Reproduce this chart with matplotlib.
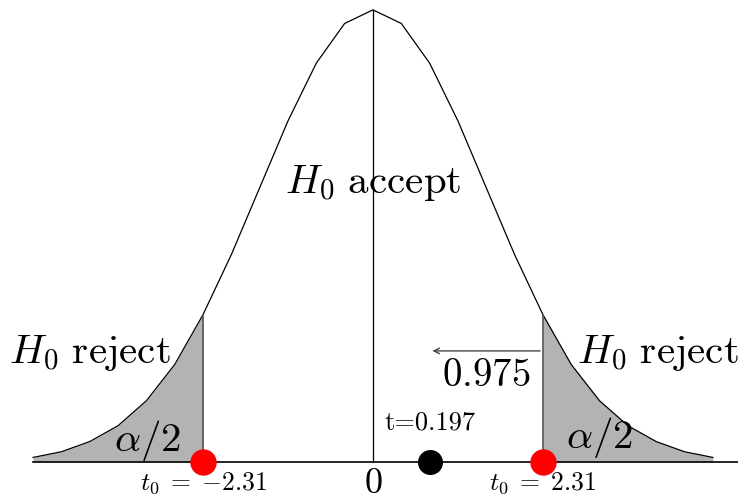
import numpy as np
import matplotlib
matplotlib.use("Agg")
import matplotlib.pyplot as plt

plt.rcParams['mathtext.fontset'] = 'cm'

# density curve
xs = [-3.0, -2.75, -2.5, -2.25, -2.0, -1.75, -1.5, -1.25, -1.0, -0.75, -0.5, -0.25, 0.0,
      0.25, 0.5, 0.75, 1.0, 1.25, 1.5, 1.75, 2.0, 2.25, 2.5, 2.75, 3.0]
ys = [0.004, 0.009, 0.018, 0.032, 0.054, 0.086, 0.130, 0.183, 0.242, 0.301, 0.352, 0.387, 0.399,
      0.387, 0.352, 0.301, 0.242, 0.183, 0.130, 0.086, 0.054, 0.032, 0.018, 0.009, 0.004]
crit = 1.5          # where the rejection region starts (drawn position)
t_pos = 0.5         # drawn position of the test statistic
crit_labels = [r'$t_0\;=\;{-}2.31$', r'$t_0\;=\;2.31$']
t_label = 't=0.197'

xs = np.array(xs)
ys = np.array(ys)

fig = plt.figure(figsize=(7.38, 4.99), dpi=100)
ax = fig.add_axes([0, 0, 1, 1])
ax.set_xlim(-3.292, 3.222)
ax.set_ylim(-0.0327, 0.4077)
ax.axis('off')

# shaded tails
left = xs <= -crit
right = xs >= crit
ax.fill_between(xs[left], 0, ys[left], color='#b3b3b3', lw=0)
ax.fill_between(xs[right], 0, ys[right], color='#b3b3b3', lw=0)

ax.plot(xs, ys, color='black', lw=0.9)
ax.plot([-3.0, 3.3], [0, 0], color='black', lw=1.2)
ax.plot([0, 0], [0, ys[xs == 0][0]], color='black', lw=0.9)
ycrit = ys[right][0]
ax.plot([-crit, -crit], [0, ycrit], color='#555555', lw=1.2)
ax.plot([crit, crit], [0, ycrit], color='#555555', lw=1.2)

ax.annotate('', xy=(t_pos, 0.098), xytext=(crit, 0.098),
            arrowprops=dict(arrowstyle='->', color='#444444', lw=1.0))

ax.plot([-crit, crit], [0, 0], 'o', color='red', ms=18, zorder=5, clip_on=False)
ax.plot([t_pos], [0], 'o', color='black', ms=17, zorder=5)

big = 29.5
ax.text(0, 0.246, r'$H_0\ \mathrm{accept}$', ha='center', va='center', fontsize=big)
ax.text(-2.5, 0.096, r'$H_0\ \mathrm{reject}$', ha='center', va='center', fontsize=big)
ax.text(2.51, 0.096, r'$H_0\ \mathrm{reject}$', ha='center', va='center', fontsize=big)
ax.text(-1.99, 0.019, r'$\alpha/2$', ha='center', va='center', fontsize=big)
ax.text(2.0, 0.022, r'$\alpha/2$', ha='center', va='center', fontsize=big)
ax.text(1.0, 0.077, r'$0.975$', ha='center', va='center', fontsize=28)
ax.text(0, -0.019, r'$0$', ha='center', va='center', fontsize=26)
ax.text(-crit, -0.0185, crit_labels[0], ha='center', va='center', fontsize=18.5)
ax.text(crit, -0.0185, crit_labels[1], ha='center', va='center', fontsize=18.5)
ax.text(t_pos, 0.035, t_label, ha='center', va='center', fontsize=19, family='cmr10')

fig.savefig('out.png', dpi=100)
